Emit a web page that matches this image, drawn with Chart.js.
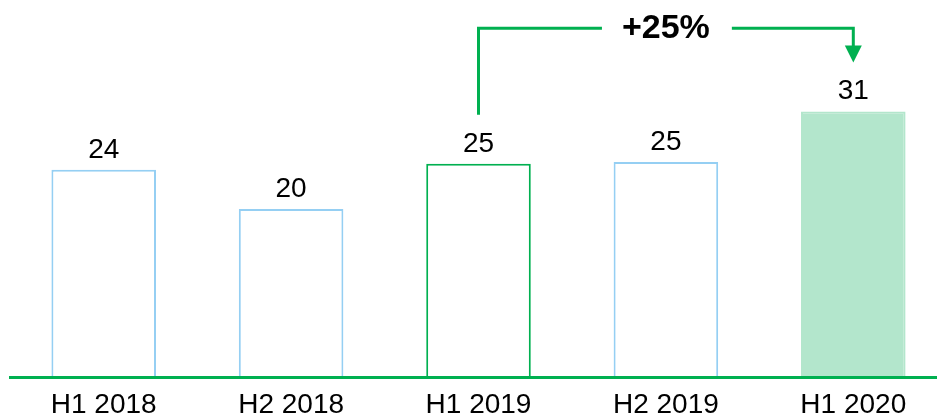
<!DOCTYPE html>
<html>
<head>
<meta charset="utf-8">
<script src="https://cdn.jsdelivr.net/npm/chart.js@4"></script>
<style>
    html, body { margin: 0; padding: 0; background: #fff; overflow: hidden; }
    #wrap { position: relative; width: 947px; height: 419px; }
</style>
</head>
<body>
<div id="wrap"><canvas id="chart"></canvas></div>
<script>
const categories = ['H1 2018', 'H2 2018', 'H1 2019', 'H2 2019', 'H1 2020'];
const values = [24.2, 19.6, 24.9, 25.1, 31.0];
const growthLabel = '+25%';
const growthFrom = 2; // H1 2019
const growthTo = 4;   // H1 2020
const bracketLevel = 40.7;

const GREEN = '#00B050';
const BLUE = '#95CFF3';
const FILL = '#B3E6CC';
const FONT = '"Liberation Sans", Arial, sans-serif';

const borderColors = categories.map((c, i) => i === growthFrom ? GREEN : (i === growthTo ? FILL : BLUE));
const fillColors = categories.map((c, i) => i === growthTo ? FILL : '#ffffff');

// value labels above bars
const valueLabels = {
    id: 'valueLabels',
    afterDatasetsDraw(chart) {
        const ctx = chart.ctx;
        const meta = chart.getDatasetMeta(0);
        ctx.save();
        ctx.fillStyle = '#000';
        ctx.font = '28px ' + FONT;
        ctx.textAlign = 'center';
        ctx.textBaseline = 'alphabetic';
        meta.data.forEach((bar, i) => {
            ctx.fillText(Math.round(values[i]).toString(), bar.x, bar.y - 12);
        });
        ctx.restore();
    }
};

// growth bracket with arrow
const growthBracket = {
    id: 'growthBracket',
    afterDraw(chart) {
        const ctx = chart.ctx;
        const meta = chart.getDatasetMeta(0);
        const a = meta.data[growthFrom];
        const b = meta.data[growthTo];
        const yLine = chart.scales.y.getPixelForValue(bracketLevel);
        const yStart = a.y - 49;
        const yTip = b.y - 49;
        const mid = (a.x + b.x) / 2;

        ctx.save();
        ctx.font = 'bold 34px ' + FONT;
        const w = ctx.measureText(growthLabel).width;

        ctx.strokeStyle = GREEN;
        ctx.lineWidth = 3;
        ctx.lineCap = 'butt';
        ctx.lineJoin = 'miter';
        ctx.beginPath();
        ctx.moveTo(a.x, yStart);
        ctx.lineTo(a.x, yLine);
        ctx.lineTo(mid - w / 2 - 20, yLine);
        ctx.moveTo(mid + w / 2 + 22, yLine);
        ctx.lineTo(b.x, yLine);
        ctx.lineTo(b.x, yTip - 16);
        ctx.stroke();

        ctx.fillStyle = GREEN;
        ctx.beginPath();
        ctx.moveTo(b.x - 8.5, yTip - 17);
        ctx.lineTo(b.x + 8.5, yTip - 17);
        ctx.lineTo(b.x, yTip);
        ctx.closePath();
        ctx.fill();

        ctx.fillStyle = '#000';
        ctx.textAlign = 'center';
        ctx.textBaseline = 'middle';
        ctx.fillText(growthLabel, mid, yLine);
        ctx.restore();
    }
};

new Chart(document.getElementById('chart'), {
    type: 'bar',
    data: {
        labels: categories,
        datasets: [{
            data: values,
            backgroundColor: fillColors,
            borderColor: borderColors,
            borderWidth: 2,
            categoryPercentage: 1,
            barPercentage: 0.558
        }]
    },
    options: {
        responsive: true,
        maintainAspectRatio: false,
        animation: false,
        layout: { padding: { left: 10, right: 0, top: 0, bottom: -14 } },
        plugins: {
            legend: { display: false },
            tooltip: { enabled: false }
        },
        scales: {
            x: {
                grid: { display: false, drawTicks: false },
                border: { display: true, color: GREEN, width: 3, z: 1 },
                ticks: {
                    color: '#000',
                    padding: 14,
                    font: { family: FONT, size: 28, lineHeight: 1 }
                }
            },
            y: {
                display: false,
                min: 0,
                max: 44
            }
        }
    },
    plugins: [valueLabels, growthBracket]
});
</script>
</body>
</html>
